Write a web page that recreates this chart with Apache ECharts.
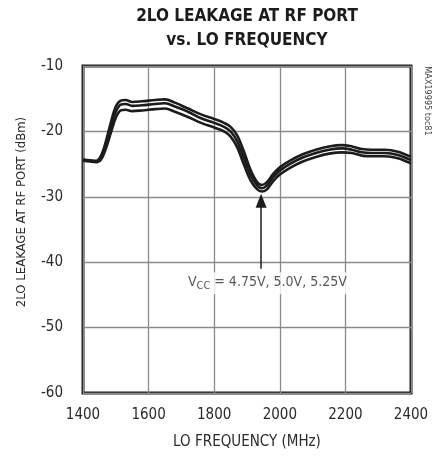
<!DOCTYPE html>
<html lang="en">
<head>
<meta charset="UTF-8">
<title>2LO Leakage at RF Port vs. LO Frequency</title>
<script src="https://cdn.jsdelivr.net/npm/echarts@6/dist/echarts.min.js"></script>
<style>
    *{margin:0;padding:0;box-sizing:border-box;}
    body,html{width:433px;height:457px;background:#fff;overflow:hidden;}
    #main{width:433px;height:457px;}
</style>
</head>
<body>
<div id="main"></div>
<script>
    // LO frequency (MHz)
    var freq = [1400,1420,1440,1455,1470,1485,1500,1515,1530,1550,1580,1620,1650,1680,1720,1760,1800,1830,1850,1870,
                1890,1910,1930,1945,1960,1980,2000,2030,2070,2110,2150,2190,2220,2250,2280,2320,2360,2400];
    // leakage (dBm), upper / middle / lower trace
    var vccHigh = [-24.3,-24.4,-24.5,-23.7,-21.5,-18.6,-16.2,-15.3,-15.2,-15.5,-15.4,-15.2,-15.1,-15.6,-16.5,-17.4,-18.1,-18.7,-19.3,-20.6,
                   -23.0,-25.8,-27.7,-28.2,-27.8,-26.5,-25.5,-24.5,-23.5,-22.8,-22.3,-22.1,-22.3,-22.7,-22.8,-22.8,-23.1,-23.9];
    var vccMid  = [-24.4,-24.5,-24.6,-24.0,-22.0,-19.3,-17.0,-15.9,-15.8,-16.1,-16.0,-15.8,-15.7,-16.2,-17.0,-18.0,-18.7,-19.3,-20.0,-21.5,
                   -24.0,-26.6,-28.2,-28.7,-28.3,-27.0,-26.0,-25.0,-24.0,-23.3,-22.8,-22.6,-22.8,-23.2,-23.3,-23.3,-23.6,-24.4];
    var vccLow  = [-24.5,-24.6,-24.7,-24.3,-22.6,-20.2,-17.9,-16.8,-16.7,-16.9,-16.8,-16.6,-16.5,-17.0,-17.8,-18.7,-19.4,-20.0,-20.8,-22.4,
                   -25.0,-27.4,-28.8,-29.2,-28.9,-27.6,-26.6,-25.6,-24.6,-23.9,-23.4,-23.2,-23.3,-23.7,-23.8,-23.8,-24.1,-24.9];
    // annotation arrow (from, to) and label position
    var arrowFrom = [1943, -41];
    var arrowTo = [1943, -30.6];
    var notePos = [1962, -43.2];

    var font = '"Liberation Sans Narrow","DejaVu Sans Condensed","Liberation Sans",Arial,sans-serif';

    function pairs(v){
        return freq.map(function(f,i){ return [f, v[i]]; });
    }
    function trace(name, v){
        return {
            type:'line', name:name, data:pairs(v), smooth:0.35,
            showSymbol:false, silent:true,
            lineStyle:{color:'#1c1c1c', width:2.6}
        };
    }

    var myChart = echarts.init(document.getElementById('main'));
    var option = {
        animation:false,
        grid:{left:83, right:22, top:66, bottom:64, show:true, borderColor:'#1c1c1c', borderWidth:3},
        graphic:[
            {type:'text', x:247, y:17, style:{text:'2LO LEAKAGE AT RF PORT', font:'bold 17px '+font, fill:'#1c1c1c', textAlign:'center', textVerticalAlign:'middle'}},
            {type:'text', x:247, y:41, style:{text:'vs. LO FREQUENCY', font:'bold 17px '+font, fill:'#1c1c1c', textAlign:'center', textVerticalAlign:'middle'}},
            {type:'text', x:22, y:212, rotation:Math.PI/2, style:{text:'2LO LEAKAGE AT RF PORT (dBm)', font:'13px '+font, fill:'#2a2a2a', textAlign:'center', textVerticalAlign:'middle'}},
            {type:'text', x:427, y:101, rotation:-Math.PI/2, style:{text:'MAX19995 toc81', font:'9px '+font, fill:'#444', textAlign:'center', textVerticalAlign:'middle'}}
        ],
        xAxis:{
            type:'value', min:1400, max:2400, interval:200,
            name:'LO FREQUENCY (MHz)', nameLocation:'middle', nameGap:42,
            nameTextStyle:{fontFamily:font, fontSize:15, color:'#2a2a2a'},
            axisLine:{show:false}, axisTick:{show:false},
            axisLabel:{fontFamily:font, fontSize:15, color:'#2a2a2a', margin:15, formatter:function(v){ return String(v); }},
            splitLine:{show:true, lineStyle:{color:'#8a8a8a', width:1.3}}
        },
        yAxis:{
            type:'value', min:-60, max:-10, interval:10,
            axisLine:{show:false}, axisTick:{show:false},
            axisLabel:{fontFamily:font, fontSize:15, color:'#2a2a2a', margin:20},
            splitLine:{show:true, lineStyle:{color:'#8a8a8a', width:1.3}}
        },
        series:[
            trace('5.25V', vccHigh),
            trace('5.0V', vccMid),
            trace('4.75V', vccLow),
            {
                type:'scatter', silent:true, symbolSize:0, data:[notePos],
                label:{
                    show:true, position:'inside', backgroundColor:'#fff', padding:[0,2,2,2],
                    formatter:'{v|V}{s|CC}{v| = 4.75V, 5.0V, 5.25V}',
                    rich:{
                        v:{fontFamily:font, fontSize:14, color:'#2a2a2a', lineHeight:20, verticalAlign:'middle'},
                        s:{fontFamily:font, fontSize:11, color:'#2a2a2a', lineHeight:20, verticalAlign:'bottom', padding:[7,0,0,0]}
                    }
                },
                markLine:{
                    silent:true, symbol:['none','triangle'], symbolSize:[11,14],
                    label:{show:false},
                    lineStyle:{color:'#1c1c1c', width:1.5, type:'solid'},
                    data:[[{coord:arrowFrom},{coord:arrowTo}]]
                }
            }
        ]
    };
    myChart.setOption(option);
</script>
</body>
</html>
